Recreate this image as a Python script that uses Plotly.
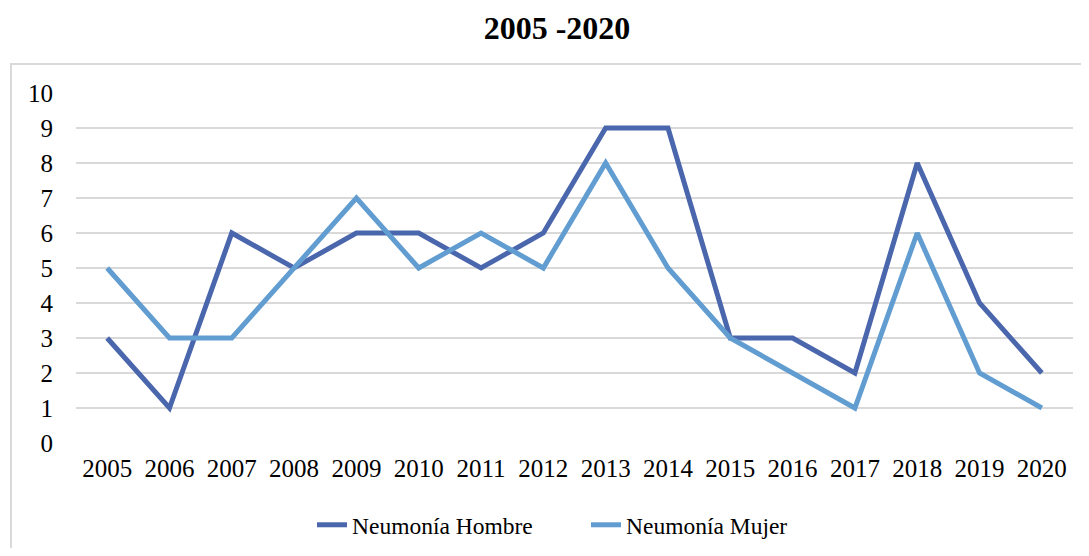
import plotly.graph_objects as go

years = [str(y) for y in range(2005, 2021)]
hombre = [3, 1, 6, 5, 6, 6, 5, 6, 9, 9, 3, 3, 2, 8, 4, 2]
mujer = [5, 3, 3, 5, 7, 5, 6, 5, 8, 5, 3, 2, 1, 6, 2, 1]
y_ticks = list(range(0, 11))

FONT = "Liberation Serif"
OFF = 8  # default page body margin
W, H = 1089 - 2 * OFF, 556 - 2 * OFF
ML, MT = 76 - OFF, 93 - OFF
MR = W - (1073 - OFF)
MB = H - (443 - OFF)
PH = H - MT - MB
PW = W - ML - MR

fig = go.Figure()
fig.add_trace(go.Scatter(x=years, y=hombre, mode="lines", name="Neumonía Hombre",
                         line=dict(color="#4A66AC", width=5)))
fig.add_trace(go.Scatter(x=years, y=mujer, mode="lines", name="Neumonía Mujer",
                         line=dict(color="#629DD1", width=5)))

fig.update_layout(
    width=W, height=H,
    margin=dict(l=ML, r=MR, t=MT, b=MB, autoexpand=False),
    paper_bgcolor="white", plot_bgcolor="white",
    font=dict(family=FONT, size=25, color="black"),
    title=dict(text="<b>2005 -2020</b>", x=(557 - OFF) / W, xanchor="center",
               y=1 - (28 - OFF) / H, yanchor="middle",
               font=dict(family=FONT, size=32, color="black")),
    showlegend=True,
    legend=dict(orientation="h", xref="container", x=(586 - OFF) / W, xanchor="center",
                yref="container", y=1 - (525 - OFF) / H, yanchor="middle",
                font=dict(family=FONT, size=23.5, color="black"),
                entrywidth=229, tracegroupgap=0),
    xaxis=dict(type="category", range=[-0.5, 15.5], showgrid=False, showline=False,
               zeroline=False, ticks="", tickfont=dict(family=FONT, size=25),
               ticklabelstandoff=8),
    yaxis=dict(range=[0, 10], tickvals=y_ticks, showgrid=True, gridcolor="#D9D9D9",
               gridwidth=1.5, zeroline=False, showline=False, ticks="",
               tickfont=dict(family=FONT, size=25), ticklabelstandoff=22),
    shapes=[dict(type="rect", xref="paper", yref="paper",
                 x0=-(ML - (11 - OFF)) / PW, x1=(W + 10 - ML) / PW,
                 y0=-(MB + 10) / PH, y1=1 + (MT - (64 - OFF)) / PH,
                 line=dict(color="#D9D9D9", width=2), layer="below")],
)

fig.write_html("out.html")
